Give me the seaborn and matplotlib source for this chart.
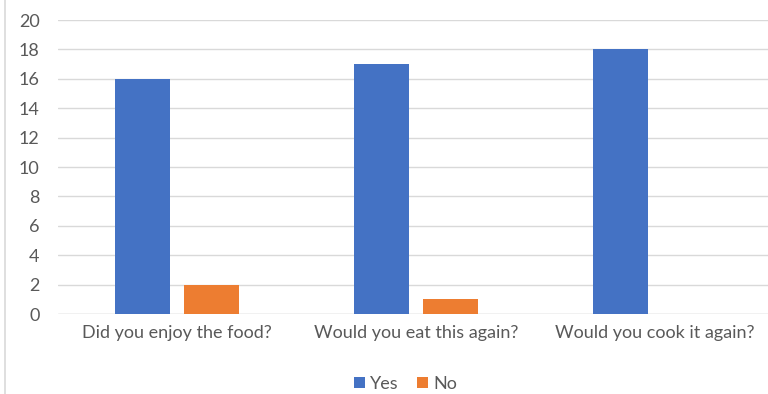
import pandas as pd
import matplotlib.pyplot as plt
import seaborn as sns
from matplotlib.lines import Line2D

# chart data
questions = ["Did you enjoy the food?", "Would you eat this again?", "Would you cook it again?"]
yes_counts = [16, 17, 18]
no_counts = [2, 1, 0]

df = pd.DataFrame({
    "question": questions * 2,
    "answer": ["Yes"] * 3 + ["No"] * 3,
    "count": yes_counts + no_counts,
})

sns.set_style("white")
plt.rcParams['font.family'] = ['Lato', 'DejaVu Sans']

fig = plt.figure(figsize=(7.68, 3.94), dpi=100)
ax = fig.add_axes([0.0749, 0.203, 0.9336, 0.746])

palette = {"Yes": "#4472C4", "No": "#ED7D31"}
sns.barplot(data=df, x="question", y="count", hue="answer", palette=palette,
            width=0.574, gap=0.206, ax=ax, saturation=1, linewidth=0, zorder=3)

ax.set_ylim(0, 20)
ax.set_xlim(-0.5, 2.5)
ax.set_yticks(range(0, 21, 2))
ax.yaxis.grid(True, color="#d9d9d9", linewidth=1, zorder=0)
for s in ax.spines.values():
    s.set_visible(False)
ax.axhline(0, color="#d9d9d9", linewidth=1, zorder=1)
ax.tick_params(axis="both", length=0, labelsize=13, colors="#595959")
ax.tick_params(axis="y", pad=13)
ax.tick_params(axis="x", pad=8)
ax.set_xlabel("")
ax.set_ylabel("")

ax.legend(loc="upper center", bbox_to_anchor=(0.485, -0.155), ncol=2, frameon=False,
          fontsize=13, handlelength=0.6, handleheight=0.6, handletextpad=0.3,
          columnspacing=1.0, labelcolor="#595959")

# thin border on the left of the image
fig.add_artist(Line2D([0.0065, 0.0065], [0, 1], color="#d9d9d9", linewidth=1.2,
                      transform=fig.transFigure))

fig.savefig("out.png", dpi=100)
